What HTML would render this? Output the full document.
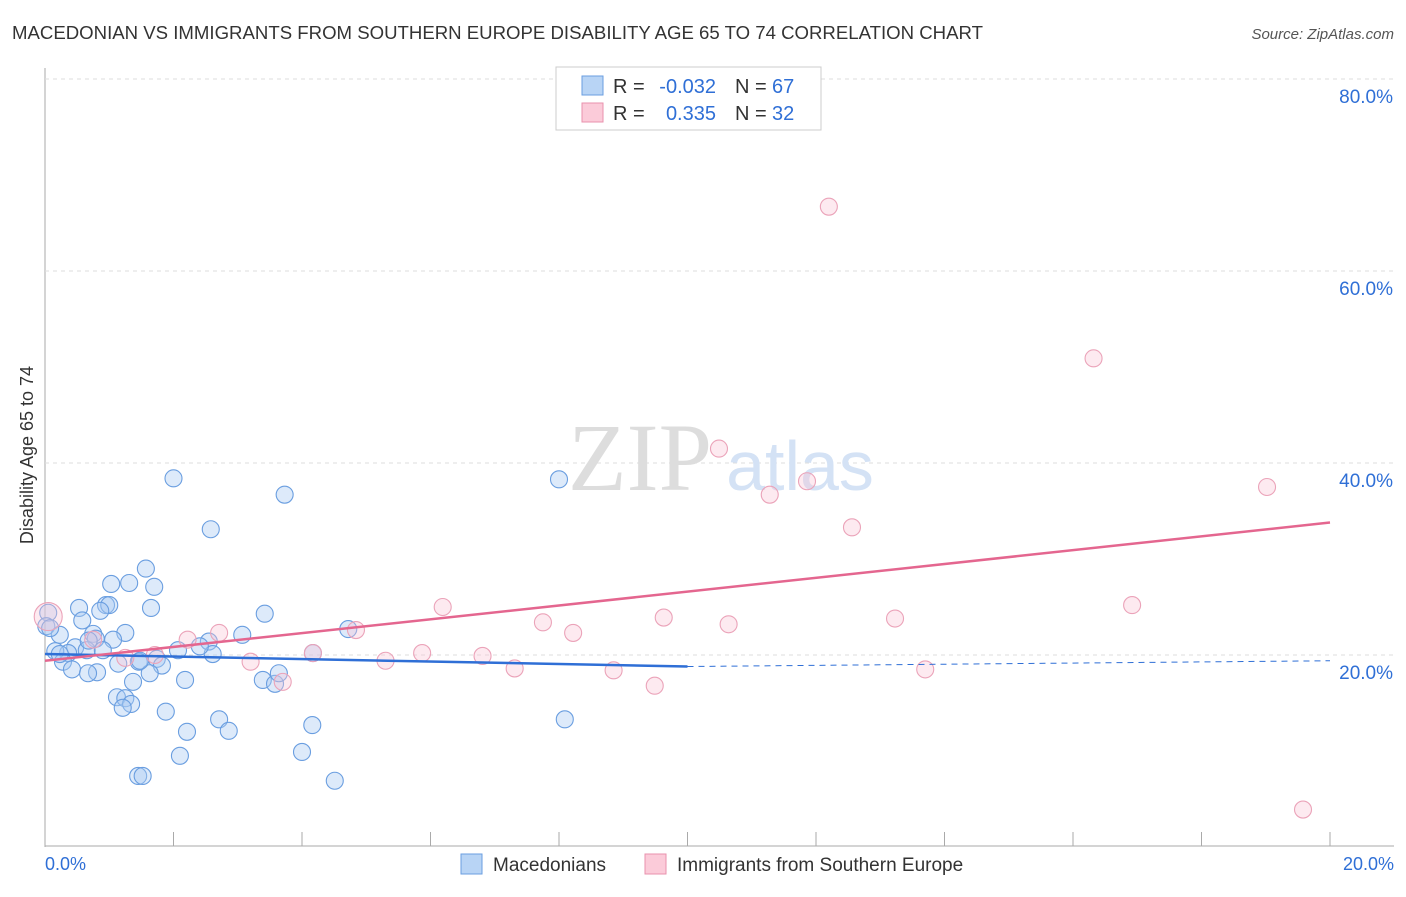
<!DOCTYPE html>
<html><head><meta charset="utf-8"><style>
body{margin:0;background:#fff;font-family:"Liberation Sans",sans-serif;}
</style></head><body>
<svg width="1406" height="892" xmlns="http://www.w3.org/2000/svg" font-family="Liberation Sans, sans-serif">
<text x="12" y="39" font-size="18" fill="#333" textLength="971" lengthAdjust="spacingAndGlyphs">MACEDONIAN VS IMMIGRANTS FROM SOUTHERN EUROPE DISABILITY AGE 65 TO 74 CORRELATION CHART</text>
<text x="1394" y="39" font-size="15" fill="#555" font-style="italic" text-anchor="end">Source: ZipAtlas.com</text>
<g id="grid"></g>
<text x="640" y="490" font-size="96" fill="#ddd" font-family="Liberation Serif, serif" text-anchor="middle">ZIP</text>
<text x="800" y="490" font-size="70" fill="#d4e2f5" text-anchor="middle">atlas</text>
<text transform="translate(33,455) rotate(-90)" font-size="18" fill="#333" text-anchor="middle">Disability Age 65 to 74</text>
<g id="pts"></g>
<g id="lines"></g>
<g font-size="20">
<rect x="556" y="67" width="265" height="63" fill="#fff" stroke="#ccc"/>
<rect x="582" y="76" width="21" height="19" fill="#b8d4f5" stroke="#6a9ee0"/>
<rect x="582" y="103" width="21" height="19" fill="#fbcbd9" stroke="#e892ad"/>
<text x="613" y="93" fill="#333">R =</text><text x="716" y="93" fill="#2f6fd6" text-anchor="end">-0.032</text>
<text x="735" y="93" fill="#333">N =</text><text x="772" y="93" fill="#2f6fd6">67</text>
<text x="613" y="120" fill="#333">R =</text><text x="716" y="120" fill="#2f6fd6" text-anchor="end">0.335</text>
<text x="735" y="120" fill="#333">N =</text><text x="772" y="120" fill="#2f6fd6">32</text>
</g>
<g>
<rect x="461" y="854" width="21" height="20" fill="#b8d4f5" stroke="#6a9ee0"/>
<text x="493" y="871" font-size="19" fill="#333">Macedonians</text>
<rect x="645" y="854" width="21" height="20" fill="#fbcbd9" stroke="#e892ad"/>
<text x="677" y="871" font-size="19" fill="#333">Immigrants from Southern Europe</text>
</g>
<text x="45" y="870" font-size="18" fill="#2f6fd6">0.0%</text>
<text x="1394" y="870" font-size="18" fill="#2f6fd6" text-anchor="end">20.0%</text>
</svg>
<script>
const yTicks=[20,40,60,80];
const blueX=[2.0,3.73,2.58,8.0,1.57,1.03,1.31,1.70,0.95,1.0,1.65,0.53,0.86,0.58,3.42,0.05,0.02,0.23,0.75,1.25,3.07,4.72,1.06,0.79,2.55,2.07,0.47,0.65,0.36,0.16,2.61,4.17,1.74,1.82,1.46,1.14,0.28,0.42,0.81,0.67,1.63,1.37,2.18,3.39,3.58,3.64,1.12,1.25,1.34,1.21,1.88,2.71,2.86,2.21,4.16,8.09,4.0,2.1,1.45,1.52,4.51,0.08,0.23,0.90,0.68,2.41,1.48];
const blueY=[38.4,36.7,33.1,38.3,29.0,27.4,27.5,27.1,25.2,25.2,24.9,24.9,24.6,23.6,24.3,24.4,23.0,22.1,22.2,22.3,22.1,22.7,21.6,21.7,21.4,20.5,20.8,20.5,20.2,20.4,20.1,20.2,19.6,18.9,19.3,19.1,19.3,18.5,18.2,18.1,18.1,17.2,17.4,17.4,17.0,18.1,15.6,15.5,14.9,14.5,14.1,13.3,12.1,12.0,12.7,13.3,9.9,9.5,7.4,7.4,6.9,22.8,20.1,20.5,21.5,20.9,19.4];
const pinkX=[12.2,16.32,10.49,11.28,11.86,12.56,19.02,16.92,6.19,9.63,13.23,7.75,8.22,10.64,2.71,2.22,4.84,4.17,5.87,6.81,5.30,3.20,7.31,8.85,13.7,9.49,3.70,19.58,0.05,0.75,1.71,1.25];
const pinkY=[66.7,50.9,41.5,36.7,38.1,33.3,37.5,25.2,25.0,23.9,23.8,23.4,22.3,23.2,22.3,21.6,22.6,20.2,20.2,19.9,19.4,19.3,18.6,18.4,18.5,16.8,17.2,3.9,24.0,21.6,20.0,19.7];
const blueTrend=[20.1,18.8,19.4];
const pinkTrend=[19.4,33.8];
const NS="http://www.w3.org/2000/svg";
const X=v=>45+v/20*1285, Y=v=>847-v*9.6;
function mk(t,a,p){const e=document.createElementNS(NS,t);for(const k in a)e.setAttribute(k,a[k]);p.appendChild(e);return e;}
const grid=document.getElementById('grid'),pts=document.getElementById('pts'),lines=document.getElementById('lines');
mk('line',{x1:45,y1:68,x2:45,y2:847,stroke:'#aaa'},grid);
mk('line',{x1:45,y1:846,x2:1394,y2:846,stroke:'#aaa'},grid);
for(let i=0;i<=10;i++){mk('line',{x1:X(i*2),y1:832,x2:X(i*2),y2:846,stroke:'#aaa'},grid);}
yTicks.forEach(v=>{
const l=mk('line',{x1:45,y1:Y(v),x2:1394,y2:Y(v),stroke:'#ddd','stroke-dasharray':'4,4'},grid);


const t=mk('text',{x:1393,y:Y(v)+24,'font-size':19,fill:'#2f6fd6','text-anchor':'end'},grid);
t.textContent=v.toFixed(1)+'%';


});
blueX.forEach((x,i)=>{const c=mk('circle',{cx:X(x),cy:Y(blueY[i]),r:8.5,fill:'rgba(170,202,242,0.4)',stroke:'#6a9ee0','stroke-width':1.1},pts);

});
pinkX.forEach((x,i)=>{const c=mk('circle',{cx:X(x),cy:Y(pinkY[i]),r:i==28?14:8.5,fill:'rgba(248,196,212,0.35)',stroke:'#eba3b9','stroke-width':1.1},pts);

});
let b=mk('line',{x1:X(0),y1:Y(blueTrend[0]),x2:X(10),y2:Y(blueTrend[1]),stroke:'#2f6fd6','stroke-width':2.5},lines);


let bd=mk('line',{x1:X(10),y1:Y(blueTrend[1]),x2:X(20),y2:Y(blueTrend[2]),stroke:'#2f6fd6','stroke-width':1,'stroke-dasharray':'6,5'},lines);


let p=mk('line',{x1:X(0),y1:Y(pinkTrend[0]),x2:X(20),y2:Y(pinkTrend[1]),stroke:'#e4668f','stroke-width':2.5},lines);


</script>
</body></html>
